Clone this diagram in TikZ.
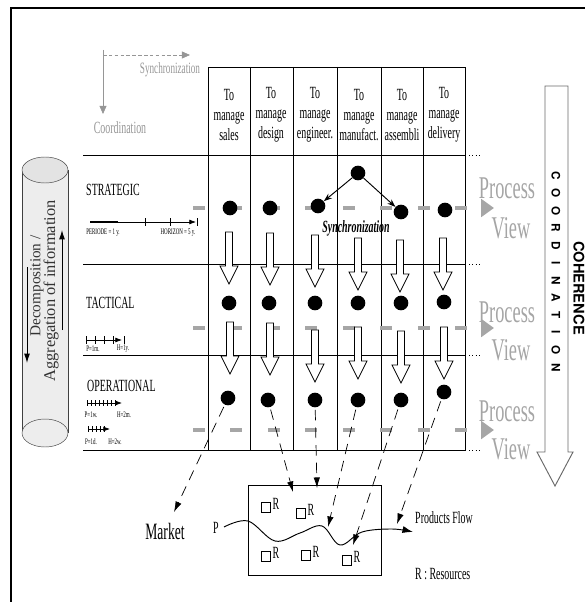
\documentclass[tikz,border=0pt]{standalone}
\usepackage{fontspec}
\setmainfont{Liberation Serif}
\setsansfont{TeX Gyre Heros}
\newfontfamily\condserif{Liberation Serif}[FakeStretch=0.58]
\usepackage{tikz}
\usetikzlibrary{arrows.meta}
\definecolor{viewgray}{RGB}{165,165,165}
\definecolor{axisgray}{RGB}{150,150,150}
\definecolor{shaftgray}{RGB}{105,105,105}

\begin{document}
\begin{tikzpicture}[x=0.3mm, y=-0.3mm, >=Latex,
    lbl/.style={font=\condserif\fontsize{14.6}{17}\selectfont, inner sep=0pt},
    tiny/.style={font=\condserif\fontsize{7.3}{8}\selectfont, inner sep=0pt},
    viewtxt/.style={font=\condserif\fontsize{27}{27}\selectfont, text=viewgray, inner sep=0pt},
    dot/.style={circle, fill=black, inner sep=0pt, minimum size=4.4mm},
    pview/.style={gray!70, line width=3.5pt, dash pattern=on 10pt off 22pt, -{Triangle[length=11pt,width=15pt]}},
    flow/.style={semithick, dash pattern=on 9pt off 6pt, -{Latex[length=9pt,width=5.5pt]}, shorten <=2pt},
    res/.style={draw, semithick, minimum width=2.6mm, minimum height=3mm, inner sep=0pt},
    hollowdown/.pic={\draw[semithick, fill=white] (-3.5,0) -- (3.5,0) -- (3.5,34) -- (9,34) -- (0,52) -- (-9,34) -- (-3.5,34) -- cycle;}
]
    \useasboundingbox (0,0) rectangle (585,602);
    \draw[line width=1.3pt] (11,602) -- (11,8) -- (585,8);

    % synchronization / coordination axes
    \draw[axisgray, densely dashed, semithick, -{Triangle[length=7pt,width=6pt]}] (103,55) -- (190,55);
    \draw[axisgray, semithick, -{Triangle[length=7pt,width=6pt]}] (103,50) -- (103,114);
    \node[lbl, text=axisgray, font=\condserif\fontsize{13.5}{14}\selectfont] (sync) at (170,70) {Synchronization};
    \node[lbl, text=axisgray] (coord) at (120,128) {Coordination};

    % grid
    \draw[thick] (208,67) rectangle (465,450);
    \foreach \x in {250,293,337,381,423} \draw[thick] (\x,67) -- (\x,450);
    \foreach \y in {155,264,355,450} {
        \draw[thick] (83,\y) -- (465,\y);
        \draw[thick, dotted] (469,\y) -- (482,\y);
    }
    \foreach \x/\w/\n in {229/sales/hs, 271/design/hd, 315/engineer./he, 359/manufact./hm, 402/assembli/ha, 444/delivery/hv}
        \node[lbl, align=center] (\n) at (\x,115) {To\\manage\\\w};

    % levels
    \node[lbl, anchor=west] (strat) at (86,190) {STRATEGIC};
    \node[lbl, anchor=west] (tact) at (86,303) {TACTICAL};
    \node[lbl, anchor=west] (oper) at (87,386) {OPERATIONAL};

    \draw[semithick, ->] (90,222) -- (196,222);
    \draw[line width=2.5pt] (90,222) -- (118,222);
    \foreach \x in {145,170,197} \draw[semithick] (\x,218) -- (\x,226);
    \node[tiny] (per) at (103,233) {PERIODE = 1 y.};
    \node[tiny] (hor) at (178,233) {HORIZON = 5 y.};

    \draw[semithick, ->] (86,340) -- (122,340);
    \foreach \x in {86,95,104,113,124} \draw (\x,336) -- (\x,344);
    \node[tiny] (pm) at (93,349) {P=1m.};
    \node[tiny] (hy) at (123,349) {H=1y.};

    \draw[semithick, ->] (87,403) -- (122,403);
    \foreach \x in {87,91,...,115} \draw (\x,400) -- (\x,406);
    \node[tiny] (pw) at (91,415) {P=1w.};
    \node[tiny] (hm) at (124,415) {H=2m.};
    \draw[semithick, ->] (88,429) -- (110,429);
    \foreach \x in {88,92,...,104} \draw (\x,426) -- (\x,432);
    \node[tiny] (pd) at (91,442) {P=1d.};
    \node[tiny] (hw) at (115,442) {H=2w.};

    % cylinder
    \fill[gray!14] (22,170) rectangle (68,433);
    \draw[gray!50!black] (22,170) -- (22,433) (68,170) -- (68,433);
    \draw[gray!50!black, fill=gray!14] (45,433) ellipse [x radius=23, y radius=14];
    \draw[gray!50!black, fill=gray!22] (45,170) ellipse [x radius=23, y radius=13];
    \node[rotate=90, inner sep=0pt, text=black!80, font=\fontsize{13}{14}\selectfont] (decomp) at (37,286) {Decomposition /};
    \node[rotate=90, inner sep=0pt, text=black!80, font=\fontsize{14}{14}\selectfont] (aggr) at (51,291) {Aggregation of information};
    \draw[thick, -{Latex[length=8pt,width=5pt]}] (27,267) -- (27,363);
    \draw[thick, -{Latex[length=8pt,width=5pt]}] (62,330) -- (62,230);

    % process views
    \foreach \y/\n in {208/1,328/2,430/3} {
        \coordinate (pvs\n) at (193,\y);
        \coordinate (pve\n) at (494,\y);
        \draw[pview] (pvs\n) -- (pve\n);
    }
    \node[viewtxt] (proc1) at (507,188) {Process};
    \node[viewtxt] (view1) at (511,228) {View};
    \node[viewtxt] (proc2) at (507,312) {Process};
    \node[viewtxt] (view2) at (511,350) {View};
    \node[viewtxt] (proc3) at (507,411) {Process};
    \node[viewtxt] (view3) at (511,449) {View};

    % coordination between levels
    \foreach \x/\y in {229/232,270/233,315/235,358/238,400/240,443/238} \pic at (\x,\y) {hollowdown};
    \foreach \x/\y in {230/322,270/323,315/330,358/327,401/331,444/327} \pic at (\x,\y) {hollowdown};

    \node[dot] (top) at (358,173) {};
    \foreach \x/\y/\n in {230/208/s1, 270/208/s2, 318/206/s3, 401/212/s5, 445/210/s6}
        \node[dot] (\n) at (\x,\y) {};
    \foreach \x/\y/\n in {229/303/t1, 269/303/t2, 315/303/t3, 358/303/t4, 401/303/t5, 444/302/t6}
        \node[dot] (\n) at (\x,\y) {};
    \foreach \x/\y/\n in {228/398/o1, 268/400/o2, 315/400/o3, 358/400/o4, 401/400/o5, 444/392/o6}
        \node[dot] (\n) at (\x,\y) {};

    \draw[thick, -{Stealth[length=7pt,width=5pt]}] (top) -- (s3);
    \draw[thick, -{Stealth[length=7pt,width=5pt]}] (top) -- (s5);
    \node[lbl, font=\condserif\bfseries\itshape\fontsize{14.6}{14}\selectfont] (synclbl) at (356,228) {Synchronization};

    % resources
    \draw[thick] (248,485) rectangle (381,575);
    \foreach \x/\y [count=\i] in {266/507,301/513,266/556,306/555,347/560}
        \node[res, label={[lbl, yshift=3pt, label distance=1.5pt]right:R}] (r\i) at (\x,\y) {};
    \node[lbl] (p) at (216,528) {P};
    \draw[thick, -{Latex[length=9pt,width=6pt]}] plot[smooth, tension=0.6] coordinates
        {(224,527) (248,521) (275,541) (300,533) (322,526) (340,545) (362,532) (392,529) (413,532)};
    \node[lbl, anchor=west] (pflow) at (415,518) {Products Flow};
    \node[lbl, anchor=west] (rres) at (415,574) {R : Resources};
    \node[lbl, font=\condserif\fontsize{20}{20}\selectfont] (market) at (165,531) {Market};

    \coordinate (mkt) at (174,512);
    \coordinate (f2) at (293,492);
    \coordinate (f3) at (317,488);
    \coordinate (f4) at (328,527);
    \coordinate (f5) at (353,545);
    \coordinate (f6) at (397,524);
    \draw[flow] (o1) -- (mkt);
    \foreach \n in {2,...,6} \draw[flow] (o\n) -- (f\n);

    % coordination / coherence
    \draw[shaftgray, thick, fill=white] (545,86) -- (568,86) -- (568,452) -- (573,452) -- (555,486) -- (537,452) -- (545,452) -- cycle;
    \foreach \letter [count=\i] in {C,O,O,R,D,I,N,A,T,I,O,N}
        \node[rotate=-90, inner sep=0pt, font=\sffamily\bfseries\fontsize{10}{10}\selectfont] at (556,{158.6+17.4*\i}) {\letter};
    \node[rotate=-90, inner sep=0pt, font=\sffamily\bfseries\fontsize{12.5}{13}\selectfont] (coh) at (579,288) {COHERENCE};
\end{tikzpicture}
\end{document}
